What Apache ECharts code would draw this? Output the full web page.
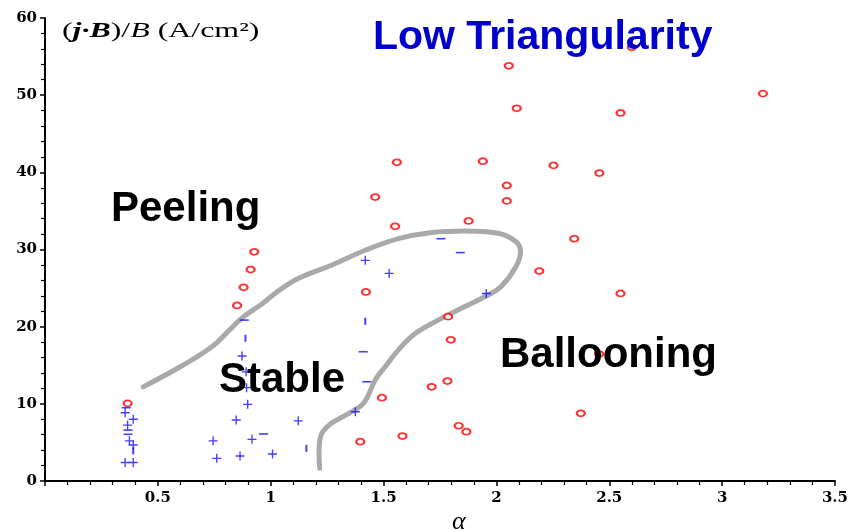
<!DOCTYPE html>
<html>
<head>
<meta charset="utf-8">
<script src="https://cdn.jsdelivr.net/npm/echarts@6/dist/echarts.min.js"></script>
<style>
html,body{margin:0;padding:0;background:#fff;}
#chart{width:851px;height:530px;}
</style>
</head>
<body>
<div id="chart"></div>
<script>
// Unstable (red circles)
const unstablePoints = [
  [2.055,53.8],[2.09,48.3],[1.559,41.3],[1.94,41.45],[2.253,40.9],[2.046,38.3],[2.046,36.3],
  [1.463,36.8],[1.877,33.7],[1.551,33.0],[2.345,31.4],[3.181,50.2],[2.55,47.7],[2.456,39.9],
  [2.19,27.2],[2.55,24.3],[2.455,16.45],[2.374,8.77],[2.6,56.2],
  [0.927,29.7],[0.911,27.4],[0.88,25.1],[0.851,22.75],[0.366,10.06],
  [1.422,24.5],[1.786,21.3],[1.798,18.3],[1.783,12.95],[1.713,12.2],[1.493,10.8],
  [1.833,7.16],[1.867,6.39],[1.584,5.83],[1.397,5.1]
];
// Stable (blue plus)
const stablePlus = [
  [0.355,8.85],[0.391,8.0],[0.366,7.25],[0.374,5.2],[0.391,4.66],[0.355,2.4],[0.391,2.4],
  [0.873,16.2],[0.891,14.15],[0.893,12.1],[0.898,9.93],[0.847,7.9],[0.745,5.2],[0.917,5.4],
  [0.761,2.94],[0.864,3.24],[1.008,3.5],[1.122,7.8],
  [1.419,28.6],[1.525,26.9],[1.955,24.3],[1.375,8.98]
];
// Stable (blue minus)
const stableMinus = [
  [0.36,9.5],[0.368,6.6],[0.368,6.05],[0.883,20.85],[0.968,6.1],[1.754,31.4],[1.84,29.6],
  [1.41,16.75],[1.426,12.86]
];
// Stable (blue bar)
const stableBar = [
  [0.391,3.9],[0.888,18.5],[1.158,4.23],[1.419,20.7]
];
// Stability boundary (grey curve)
const boundary = [
  [0.435,12.2],[0.611,15.0],[0.744,17.5],[0.817,19.56],[0.876,21.2],[0.964,23.0],[1.037,24.7],
  [1.126,26.3],[1.272,28.0],[1.419,29.9],[1.566,31.4],[1.713,32.2],[1.86,32.4],[2.007,32.1],
  [2.087,31.0],[2.107,29.7],[2.087,27.8],[2.021,25.2],[1.963,24.1],[1.86,22.6],[1.742,20.85],
  [1.64,19.1],[1.566,17.0],[1.507,14.8],[1.463,13.1],[1.412,10.1],[1.346,8.77],[1.258,7.25],
  [1.221,5.74],[1.214,3.6],[1.217,1.65]
];
const xTicks = { min: 0, max: 3.5, step: 0.5 };
const yTicks = { min: 0, max: 60, step: 10 };

const chart = echarts.init(document.getElementById('chart'), null, {renderer:'canvas'});
const plusPath = 'path://M4.25,0H5.75V4.25H10V5.75H5.75V10H4.25V5.75H0V4.25H4.25Z';
const axisFont = {fontFamily:'DejaVu Serif', fontWeight:'bold', fontSize:15, color:'#000'};
const option = {
  animation:false,
  backgroundColor:'#fff',
  grid:{left:45, right:12, top:18, bottom:49, containLabel:false},
  xAxis:{
    type:'value', min:xTicks.min, max:xTicks.max, interval:xTicks.step,
    axisLine:{onZero:false, lineStyle:{color:'#000', width:2}},
    axisTick:{length:5, lineStyle:{color:'#000', width:1.5}},
    minorTick:{show:true, splitNumber:5, length:4, lineStyle:{color:'#000', width:1.2}},
    splitLine:{show:false},
    axisLabel:Object.assign({margin:10, formatter:v => v===0 ? '' : String(v)}, axisFont)
  },
  yAxis:{
    type:'value', min:yTicks.min, max:yTicks.max, interval:yTicks.step,
    axisLine:{onZero:false, lineStyle:{color:'#000', width:2}},
    axisTick:{length:5, lineStyle:{color:'#000', width:1.5}},
    minorTick:{show:true, splitNumber:5, length:4, lineStyle:{color:'#000', width:1.2}},
    splitLine:{show:false},
    axisLabel:Object.assign({margin:8}, axisFont)
  },
  series:[
    {type:'line', data:boundary, smooth:0.4, showSymbol:false, symbol:'none',
     lineStyle:{color:'#a9a9a9', width:5, cap:'round'}, z:1, silent:true},
    {type:'scatter', data:unstablePoints, symbol:'emptyCircle', symbolSize:[8,6],
     itemStyle:{color:'#ff0000', borderColor:'#ff0000', borderWidth:1.4}, z:3},
    {type:'scatter', data:stablePlus, symbol:plusPath, symbolSize:9,
     itemStyle:{color:'#1010ff'}, z:4},
    {type:'scatter', data:stableMinus, symbol:'rect', symbolSize:[9,1.6],
     itemStyle:{color:'#1010ff'}, z:4},
    {type:'scatter', data:stableBar, symbol:'rect', symbolSize:[2,7],
     itemStyle:{color:'#1010ff'}, z:4}
  ],
  graphic:[
    {type:'text', left:373, top:17, z:100, style:{text:'Low Triangularity', font:'bold 41px "Liberation Sans", Arial', fill:'#0000cc'}},
    {type:'text', left:111, top:188, z:100, style:{text:'Peeling', font:'bold 42px "Liberation Sans", Arial', fill:'#000'}},
    {type:'text', left:219, top:359, z:100, style:{text:'Stable', font:'bold 42px "Liberation Sans", Arial', fill:'#000'}},
    {type:'text', left:500, top:334, z:100, style:{text:'Ballooning', font:'bold 42px "Liberation Sans", Arial', fill:'#000'}},
    {type:'text', x:62, y:31, scaleX:1.45, z:100, style:{
      text:'{p|(}{bi|j·B}{p|)/}{i|B}{p| (A/cm²)}',
      verticalAlign:'middle', align:'left',
      rich:{
        p:{fontFamily:'Liberation Serif', fontSize:22, fill:'#000', color:'#000'},
        bi:{fontFamily:'Liberation Serif', fontSize:22, fontWeight:'bold', fontStyle:'italic', fill:'#000', color:'#000'},
        i:{fontFamily:'Liberation Serif', fontSize:22, fontStyle:'italic', fill:'#000', color:'#000'}
      }}},
    {type:'text', x:452, y:522, z:100, style:{text:'α', font:'italic 26px "Liberation Serif"', fill:'#000', verticalAlign:'middle'}}
  ]
};
chart.setOption(option);
</script>
</body>
</html>
